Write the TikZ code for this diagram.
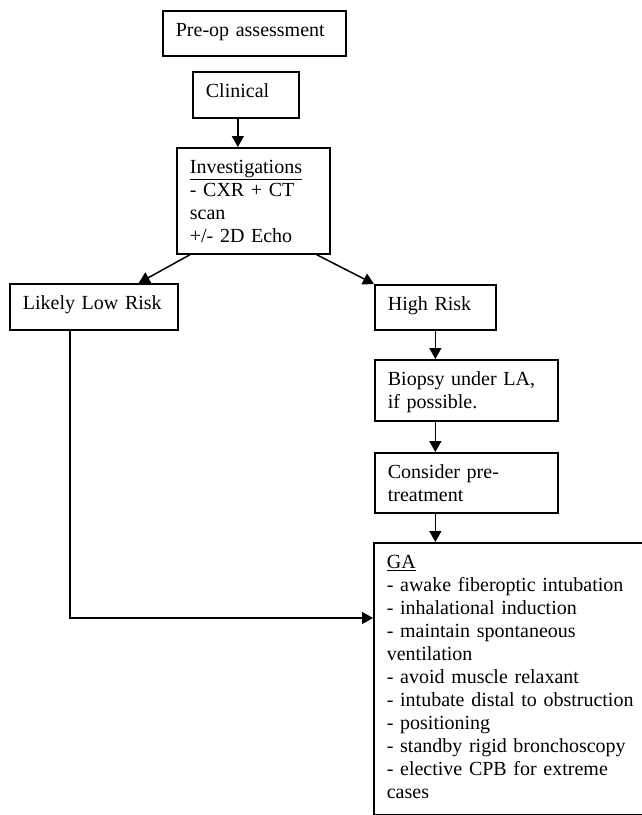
\documentclass[tikz,border=0pt]{standalone}
\usepackage{fontspec}
\setmainfont{Liberation Serif}
\usepackage{tikz}
\usetikzlibrary{arrows.meta,calc}
\usetikzlibrary{positioning}

\begin{document}
\hyphenpenalty=10000
\begin{tikzpicture}[x=1pt,y=-1pt]
\tikzstyle{block}=[draw,line width=1.7pt,anchor=north west,inner xsep=13pt,inner ysep=12pt,align=left,text height=14pt,font=\fontsize{20}{23}\selectfont]
\tikzstyle{link}=[line width=1.5pt,-{Triangle[length=11pt,width=12pt]}]
\useasboundingbox (0,0) rectangle (642,815);

\node[block,text width=157pt,text depth=7pt] (pre) at (162,10) {Pre-op assessment};
\node[block,text width=80pt,text depth=8pt] (clin) at (192,71) {Clinical};
\node[block,text width=127pt,text depth=68pt] (inv) at (176,147) {\underline{Investigations}\\- CXR + CT\\scan\\+/- 2D Echo};

\node[block,text width=142pt,text depth=8pt] (low) at (9,283) {Likely Low Risk};
\node[block,text width=95pt,text depth=7pt] (high) at (374,284) {High Risk};
\node[block,text width=157pt,text depth=23pt] (bio) at (374,359) {Biopsy under LA,\\if possible.};
\node[block,text width=157pt,text depth=22pt] (cons) at (374,452) {Consider pre-\\treatment};
\node[block,text width=262pt,text depth=234pt] (ga) at (373,542) {\underline{GA}\\- awake fiberoptic intubation\\- inhalational induction\\- maintain spontaneous\\ventilation\\- avoid muscle relaxant\\- intubate distal to obstruction\\- positioning\\- standby rigid bronchoscopy\\- elective CPB for extreme\\cases};

\draw[link] ($(clin.south)+(-8,0)$) coordinate (c1) -- (c1 |- inv.north);
\draw[link] ($(inv.south west)+(14,0)$) -- ($(low.north east)+(-40,0)$);
\draw[link] ($(inv.south east)+(-14,0)$) -- (high.north west);
\draw[link] (high.south) -- (high.south |- bio.north);
\draw[link] (high.south |- bio.south) -- (high.south |- cons.north);
\draw[link] (high.south |- cons.south) -- (high.south |- ga.north);
\draw[link] ($(low.south west)+(61,0)$) |- ($(ga.north west)+(0,76)$);
\end{tikzpicture}
\end{document}
